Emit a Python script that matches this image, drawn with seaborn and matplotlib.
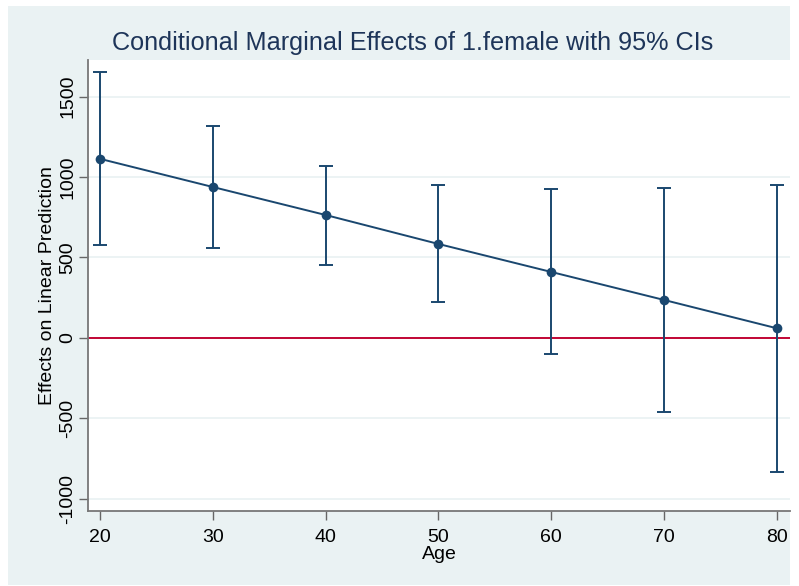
import matplotlib
matplotlib.use("Agg")
import matplotlib.pyplot as plt
import seaborn as sns
import pandas as pd
from matplotlib.patches import Rectangle

ages = [20, 30, 40, 50, 60, 70, 80]
effects = [1113, 938, 764, 584, 410, 236, 60]
ci_low = [578, 559, 453, 224, -99, -460, -834]
ci_high = [1650, 1318, 1068, 950, 925, 932, 950]
y_ticks = [-1000, -500, 0, 500, 1000, 1500]
x_ticks = [20, 30, 40, 50, 60, 70, 80]
title = "Conditional Marginal Effects of 1.female with 95% CIs"

sns.set_theme(style="white")
plt.rcParams['font.family'] = ['Liberation Sans', 'DejaVu Sans']

df = pd.DataFrame({"Age": ages, "eff": effects, "lo": ci_low, "hi": ci_high})

W, H = 799, 586
fig = plt.figure(figsize=(W / 100, H / 100), dpi=100, facecolor="white")
bg = "#eaf2f3"
fig.patches.append(Rectangle((8 / W, 1 - 585 / H), (790 - 8) / W, (585 - 6) / H,
                             transform=fig.transFigure, facecolor=bg, edgecolor="none", zorder=-10))

ax = fig.add_axes([88 / W, 1 - 511 / H, (790 - 88) / W, (511 - 60) / H])
ax.set_zorder(1)
ax.set_facecolor("white")
navy = "#1a476f"

for yv in y_ticks:
    if yv != 0:
        ax.axhline(yv, color=bg, lw=1.3, zorder=0)
ax.axhline(0, color="#c10534", lw=1.4, zorder=1)

ax.errorbar(df["Age"], df["eff"],
            yerr=[df["eff"] - df["lo"], df["hi"] - df["eff"]],
            fmt="none", ecolor=navy, elinewidth=1.4, capsize=5, capthick=1.4, zorder=2)
sns.lineplot(data=df, x="Age", y="eff", ax=ax, color=navy, lw=1.4,
             marker="o", markersize=7, markeredgewidth=0, zorder=3)

ax.set_xlim(18.94, 81.15)
ax.set_ylim(-1075, 1727)
ax.set_xticks(x_ticks)
ax.set_yticks(y_ticks)
ax.set_yticklabels([str(v) for v in y_ticks], rotation=90, va="center")
ax.tick_params(axis="both", which="major", direction="out", length=6.5, width=1,
               color="#666666", labelsize=14, labelcolor="black", left=True, bottom=True)
ax.tick_params(axis="y", pad=2)
ax.tick_params(axis="x", pad=6.3)
for s in ["top", "right"]:
    ax.spines[s].set_visible(False)
for s in ["left", "bottom"]:
    ax.spines[s].set_color("#777777")
    ax.spines[s].set_linewidth(1.3)

ax.set_xlabel("Age", fontsize=14, color="black", labelpad=0.5)
ax.set_ylabel("Effects on Linear Prediction", fontsize=14, color="black", labelpad=2)

fig.text(413 / W, 1 - 43 / H, title, ha="center", va="center", fontsize=18.2, color="#1e3559")

fig.savefig("out.png", dpi=100, facecolor="white")
